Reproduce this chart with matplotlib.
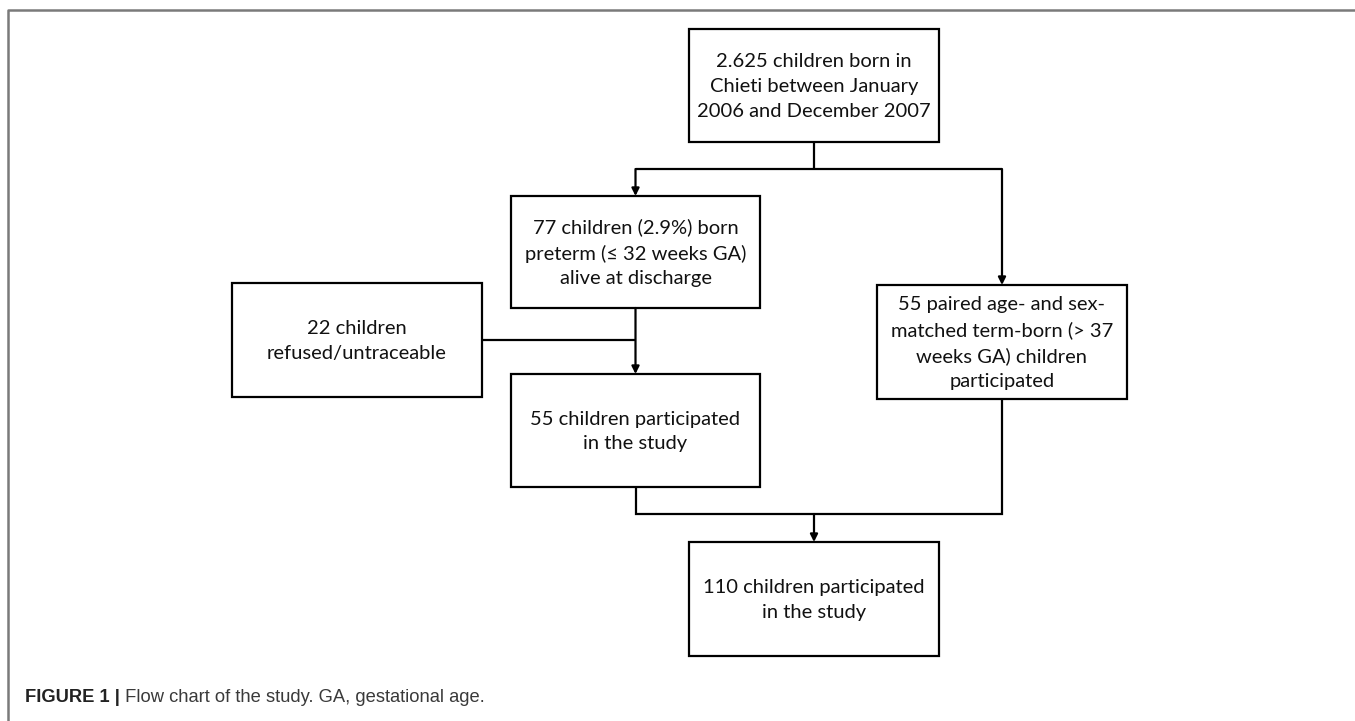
import matplotlib
matplotlib.use("Agg")
import matplotlib.pyplot as plt
from matplotlib.patches import Rectangle

# ---- content ----
box_texts = [
    "2.625 children born in\nChieti between January\n2006 and December 2007",
    "77 children (2.9%) born\npreterm (\u2264 32 weeks GA)\nalive at discharge",
    "22 children\nrefused/untraceable",
    "55 children participated\nin the study",
    "55 paired age- and sex-\nmatched term-born (> 37\nweeks GA) children\nparticipated",
    "110 children participated\nin the study",
]
caption_bold = "FIGURE 1 |"
caption_text = " Flow chart of the study. GA, gestational age."

# ---- layout (pixel coordinates, y downwards) ----
box_x0 = [689, 511, 232, 511, 877, 689]
box_x1 = [939, 760, 482, 760, 1127, 939]
box_y0 = [29, 196, 283, 374, 285, 542]
box_y1 = [142, 308, 397, 487, 399, 656]

W, H = 1355, 721
fig = plt.figure(figsize=(W / 100, H / 100), dpi=100)
ax = fig.add_axes([0, 0, 1, 1])
ax.set_xlim(0, W)
ax.set_ylim(H, 0)
ax.axis("off")

LW = 1.6
BOXFONT = ["Lato", "DejaVu Sans"]

# frame (top and left)
ax.plot([8, 8, W], [H, 10, 10], color="#7a7a7a", lw=1.8, solid_capstyle="butt")

for t, x0, x1, y0, y1 in zip(box_texts, box_x0, box_x1, box_y0, box_y1):
    ax.add_patch(Rectangle((x0, y0), x1 - x0, y1 - y0, fill=False,
                           edgecolor="black", lw=LW, zorder=3))
    ax.text((x0 + x1) / 2, (y0 + y1) / 2 + 1, t, ha="center", va="center",
            multialignment="center", fontsize=14.5, family=BOXFONT,
            linespacing=1.55, color="#111111")

def cx(i):
    return (box_x0[i] + box_x1[i]) / 2

def line(xs, ys):
    ax.plot(xs, ys, color="black", lw=LW, solid_capstyle="butt",
            solid_joinstyle="miter", zorder=2)

def arrow(x, y_from, y_to):
    ax.annotate("", xy=(x, y_to), xytext=(x, y_from),
                arrowprops=dict(arrowstyle="-|>", color="black", lw=LW,
                                mutation_scale=11, shrinkA=0, shrinkB=0),
                zorder=4)

# top split
y_split = 169
line([cx(0), cx(0)], [box_y1[0], y_split])
line([cx(1), cx(4)], [y_split, y_split])
arrow(cx(1), y_split, box_y0[1])
arrow(cx(4), y_split, box_y0[4])

# left branch
y_side = 340
line([box_x1[2], cx(1)], [y_side, y_side])
arrow(cx(1), box_y1[1], box_y0[3])

# merge
y_merge = 514
line([cx(3), cx(3), cx(4), cx(4)], [box_y1[3], y_merge, y_merge, box_y1[4]])
arrow(cx(5), y_merge, box_y0[5])

# caption
cap_font = ["Liberation Sans", "DejaVu Sans"]
t1 = ax.text(25, 698, caption_bold, fontsize=13.2, fontweight="bold",
             family=cap_font, va="center", ha="left", color="#222222")
fig.canvas.draw()
bb = t1.get_window_extent(renderer=fig.canvas.get_renderer())
x_end = ax.transData.inverted().transform((bb.x1, bb.y0))[0]
ax.text(x_end, 698, caption_text, fontsize=13.2, family=cap_font,
        va="center", ha="left", color="#3a3a3a")

fig.savefig("out.png", dpi=100)
